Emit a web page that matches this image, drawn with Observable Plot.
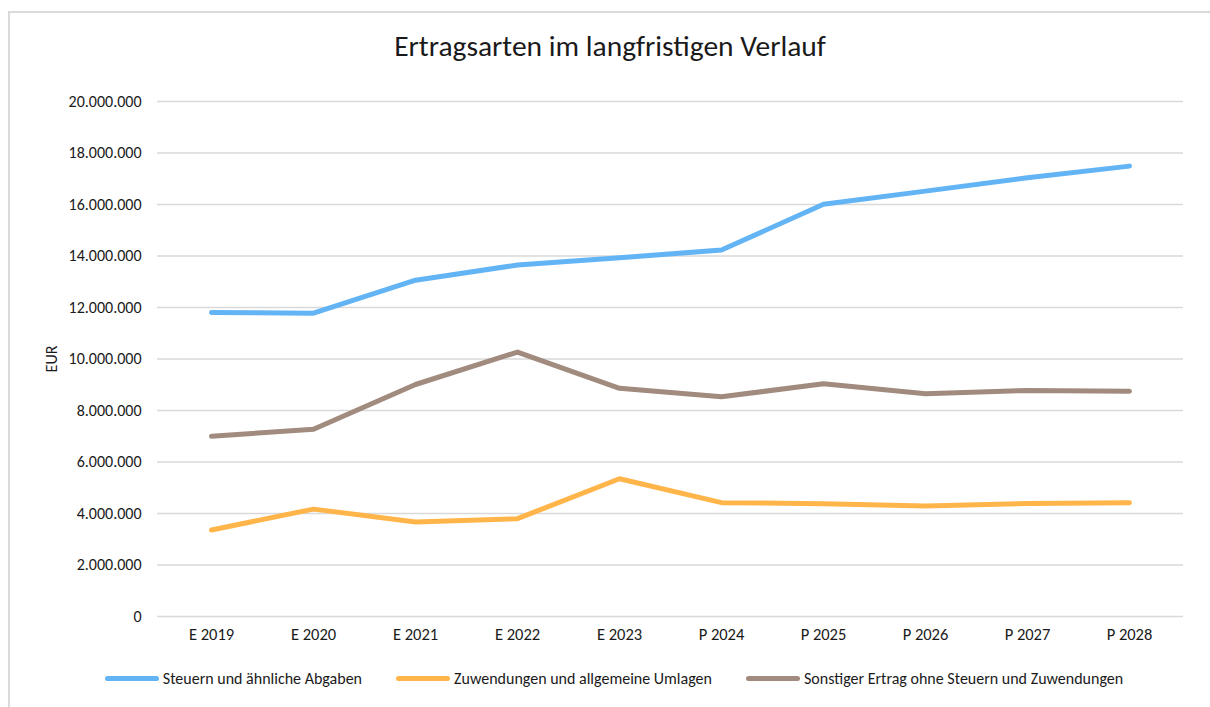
<!DOCTYPE html>
<html>
<head>
<meta charset="utf-8">
<script src="https://cdn.jsdelivr.net/npm/d3@7"></script>
<script src="https://cdn.jsdelivr.net/npm/@observablehq/plot@0.6"></script>
<style>
  html, body { margin: 0; padding: 0; background: #fff; }
  body { width: 1210px; height: 707px; position: relative; overflow: hidden;
         font-family: Carlito, Calibri, Lato, "Open Sans", sans-serif; color: #404040; }
  #frame { position: absolute; left: 8px; top: 11px; width: 1300px; height: 800px;
           border-left: 2px solid #d9d9d9; border-top: 2px solid #d9d9d9; pointer-events: none; }
  #title { position: relative; height: 80px; box-sizing: border-box; padding-top: 28px;
           text-align: center; font-size: 29.5px; color: #1a1a1a; padding-left: 10px; }
  #chart { position: relative; height: 570px; }
  #chart svg g[aria-label="y-axis tick label"] text { font-size: 16px; }
  #chart svg g[aria-label="x-axis tick label"] text { font-size: 16.5px; }
  #chart svg g[aria-label="y-axis label"] text { font-size: 16px; }
  #legend { position: relative; height: 57px; display: flex; justify-content: center; align-items: center;
            font-size: 16px; color: #1a1a1a; gap: 34px; padding-left: 18px; box-sizing: border-box; padding-bottom: 1px; }
  .item { display: flex; align-items: center; gap: 4px; }
  .swatch { width: 54px; height: 5px; border-radius: 3px; display: inline-block; }
</style>
</head>
<body>
<div id="frame"></div>
<div id="title">Ertragsarten im langfristigen Verlauf</div>
<div id="chart"></div>
<div id="legend"></div>
<script>
const categories = ["E 2019", "E 2020", "E 2021", "E 2022", "E 2023", "P 2024", "P 2025", "P 2026", "P 2027", "P 2028"];
const seriesNames = [
  "Steuern und ähnliche Abgaben",
  "Zuwendungen und allgemeine Umlagen",
  "Sonstiger Ertrag ohne Steuern und Zuwendungen"
];
const seriesColors = ["#63b4f5", "#ffb54a", "#a18a7e"];
const steuern = [11810000, 11780000, 13060000, 13650000, 13930000, 14230000, 16010000, 16520000, 17040000, 17490000];
const zuwendungen = [3360000, 4170000, 3670000, 3800000, 5350000, 4420000, 4380000, 4290000, 4390000, 4420000];
const sonstige = [7000000, 7270000, 9010000, 10270000, 8860000, 8530000, 9040000, 8650000, 8780000, 8750000];
const yTicks = [0, 2000000, 4000000, 6000000, 8000000, 10000000, 12000000, 14000000, 16000000, 18000000, 20000000];

const seriesValues = [steuern, zuwendungen, sonstige];
const data = [];
seriesValues.forEach((vals, s) => vals.forEach((v, i) => data.push({cat: categories[i], value: v, series: seriesNames[s]})));

const de = d3.formatLocale({decimal: ",", thousands: ".", grouping: [3], currency: ["", " €"]});
const fmt = de.format(",d");

const chart = Plot.plot({
  width: 1210,
  height: 570,
  marginTop: 21,
  marginBottom: 34,
  marginLeft: 157,
  marginRight: 27,
  style: {fontFamily: "Carlito, Calibri, Lato, 'Open Sans', sans-serif", fontSize: "15px", color: "#404040", background: "transparent"},
  x: {type: "point", domain: categories, padding: 0.5},
  y: {domain: [0, 20000000]},
  color: {domain: seriesNames, range: seriesColors},
  marks: [
    Plot.gridY(yTicks, {stroke: "#d9d9d9", strokeOpacity: 1, strokeWidth: 1.6}),
    Plot.axisY({ticks: yTicks, tickFormat: fmt, tickSize: 0, tickPadding: 16, label: "EUR", labelAnchor: "center", labelArrow: "none", labelOffset: 112, fill: "#1a1a1a"}),
    Plot.axisX({tickSize: 0, tickPadding: 12, label: null, fill: "#1a1a1a"}),
    Plot.lineY(data, {x: "cat", y: "value", z: "series", stroke: "series", strokeWidth: 5, strokeLinecap: "round", strokeLinejoin: "round"})
  ]
});
document.getElementById("chart").appendChild(chart);

const legend = document.getElementById("legend");
seriesNames.forEach((name, i) => {
  const item = document.createElement("div");
  item.className = "item";
  const sw = document.createElement("span");
  sw.className = "swatch";
  sw.style.background = seriesColors[i];
  const label = document.createElement("span");
  label.textContent = name;
  item.appendChild(sw);
  item.appendChild(label);
  legend.appendChild(item);
});
</script>
</body>
</html>
